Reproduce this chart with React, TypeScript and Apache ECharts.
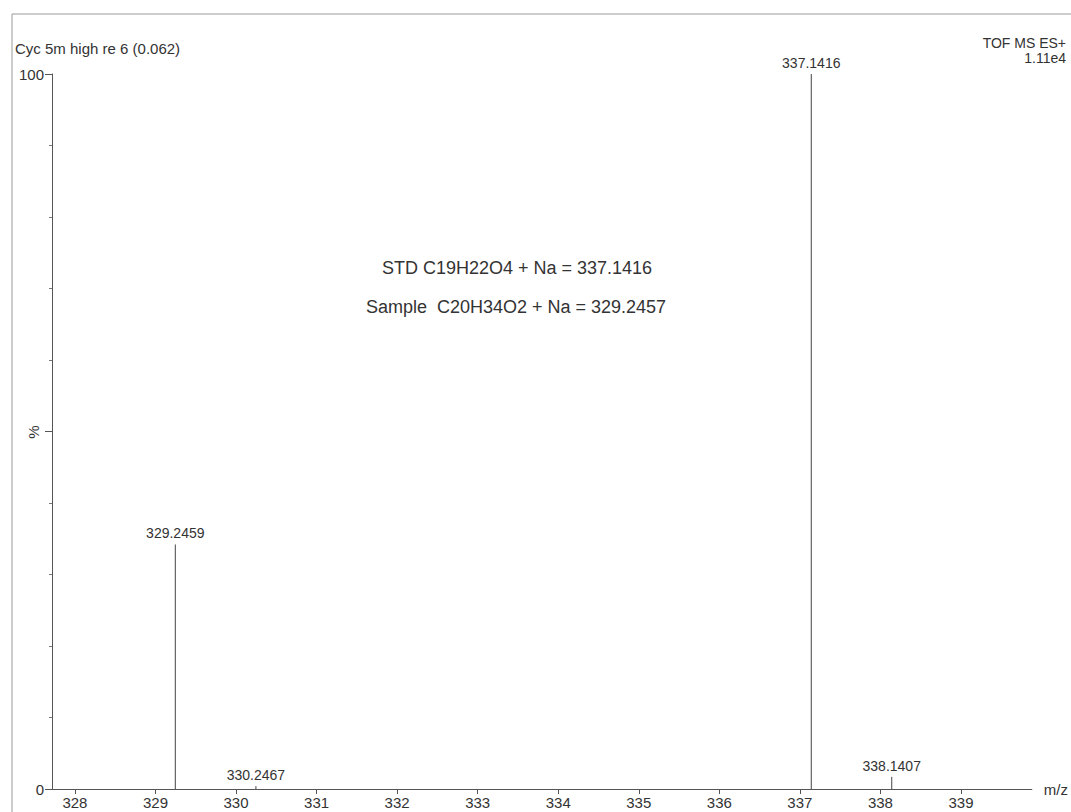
import React, { useEffect, useRef } from "react";
import * as echarts from "echarts";

const peakMz = [329.2459, 330.2467, 337.1416, 338.1407];
const peakIntensity = [34.2, 0.4, 100, 1.7];
const peakLabels = ["329.2459", "330.2467", "337.1416", "338.1407"];
const xTickValues = [328, 329, 330, 331, 332, 333, 334, 335, 336, 337, 338, 339];
const headerLeft = "Cyc 5m high re 6 (0.062)";
const headerRight = ["TOF MS ES+", "1.11e4"];
const annotations = ["STD C19H22O4 + Na = 337.1416", "Sample  C20H34O2 + Na = 329.2457"];
const yUnit = "%";

const FONT = "Liberation Sans, Arial, sans-serif";
const INK = "#333";

export default function App() {
  const ref = useRef<HTMLDivElement>(null);
  useEffect(() => {
    if (!ref.current) return;
    const chart = echarts.init(ref.current, undefined, { renderer: "svg" });
    const data = peakMz.map((m, i) => [m, peakIntensity[i]]);
    chart.setOption({
      animation: false,
      backgroundColor: "#fff",
      grid: { left: 52, right: 39, top: 74, bottom: 23, containLabel: false },
      xAxis: {
        type: "value",
        min: 327.715,
        max: 339.88,
        name: "m/z",
        nameLocation: "end",
        nameGap: 12,
        nameTextStyle: { color: INK, fontSize: 15, fontFamily: FONT, verticalAlign: "middle" },
        splitLine: { show: false },
        axisLine: { lineStyle: { color: "#555", width: 1 } },
        axisTick: { show: true, length: 5, customValues: xTickValues, lineStyle: { color: "#555" } },
        axisLabel: { customValues: xTickValues, color: INK, fontSize: 15, fontFamily: FONT, margin: 6 },
      },
      yAxis: {
        type: "value",
        min: 0,
        max: 100,
        interval: 50,
        splitLine: { show: false },
        axisLine: { show: true, lineStyle: { color: "#555", width: 1 } },
        axisTick: { show: true, length: 7, lineStyle: { color: "#555" } },
        minorTick: { show: true, splitNumber: 5, length: 3, lineStyle: { color: "#777" } },
        axisLabel: {
          color: INK,
          fontSize: 15,
          fontFamily: FONT,
          margin: 8,
          formatter: (v: number) => (v === 50 ? "" : String(v)),
        },
      },
      graphic: [
        { type: "line", shape: { x1: 12, y1: 14, x2: 1071, y2: 14 }, style: { stroke: "#999", lineWidth: 1 } },
        { type: "line", shape: { x1: 12, y1: 14, x2: 12, y2: 812 }, style: { stroke: "#999", lineWidth: 1 } },
        { type: "text", x: 15, y: 48, style: { text: headerLeft, fill: INK, fontSize: 15, fontFamily: FONT, verticalAlign: "middle" } },
        { type: "text", x: 1066, y: 43, style: { text: headerRight[0], fill: INK, fontSize: 14, fontFamily: FONT, align: "right", verticalAlign: "middle" } },
        { type: "text", x: 1066, y: 58, style: { text: headerRight[1], fill: INK, fontSize: 14, fontFamily: FONT, align: "right", verticalAlign: "middle" } },
        { type: "text", x: 33, y: 432, rotation: Math.PI / 2, style: { text: yUnit, fill: INK, fontSize: 15, fontFamily: FONT, align: "center", verticalAlign: "middle" } },
        { type: "text", x: 517, y: 268, style: { text: annotations[0], fill: INK, fontSize: 18, fontFamily: FONT, align: "center", verticalAlign: "middle" } },
        { type: "text", x: 516, y: 307, style: { text: annotations[1], fill: INK, fontSize: 18, fontFamily: FONT, align: "center", verticalAlign: "middle" } },
      ],
      series: [
        {
          type: "custom",
          data,
          encode: { x: 0, y: 1 },
          renderItem: (params: any, api: any) => {
            const x = api.value(0);
            const y = api.value(1);
            const p0 = api.coord([x, 0]);
            const p1 = api.coord([x, y]);
            const label = peakLabels[params.dataIndex];
            return {
              type: "group",
              children: [
                { type: "line", shape: { x1: p0[0], y1: p0[1], x2: p1[0], y2: p1[1] }, style: { stroke: "#444", lineWidth: 1 } },
                { type: "text", x: p1[0], y: p1[1] - 4, style: { text: label, fill: INK, fontSize: 14, fontFamily: FONT, align: "center", verticalAlign: "bottom" } },
              ],
            };
          },
        },
      ],
    });
    return () => chart.dispose();
  }, []);
  return <div ref={ref} style={{ width: 1071, height: 812, position: "absolute", left: 0, top: 0 }} />;
}
